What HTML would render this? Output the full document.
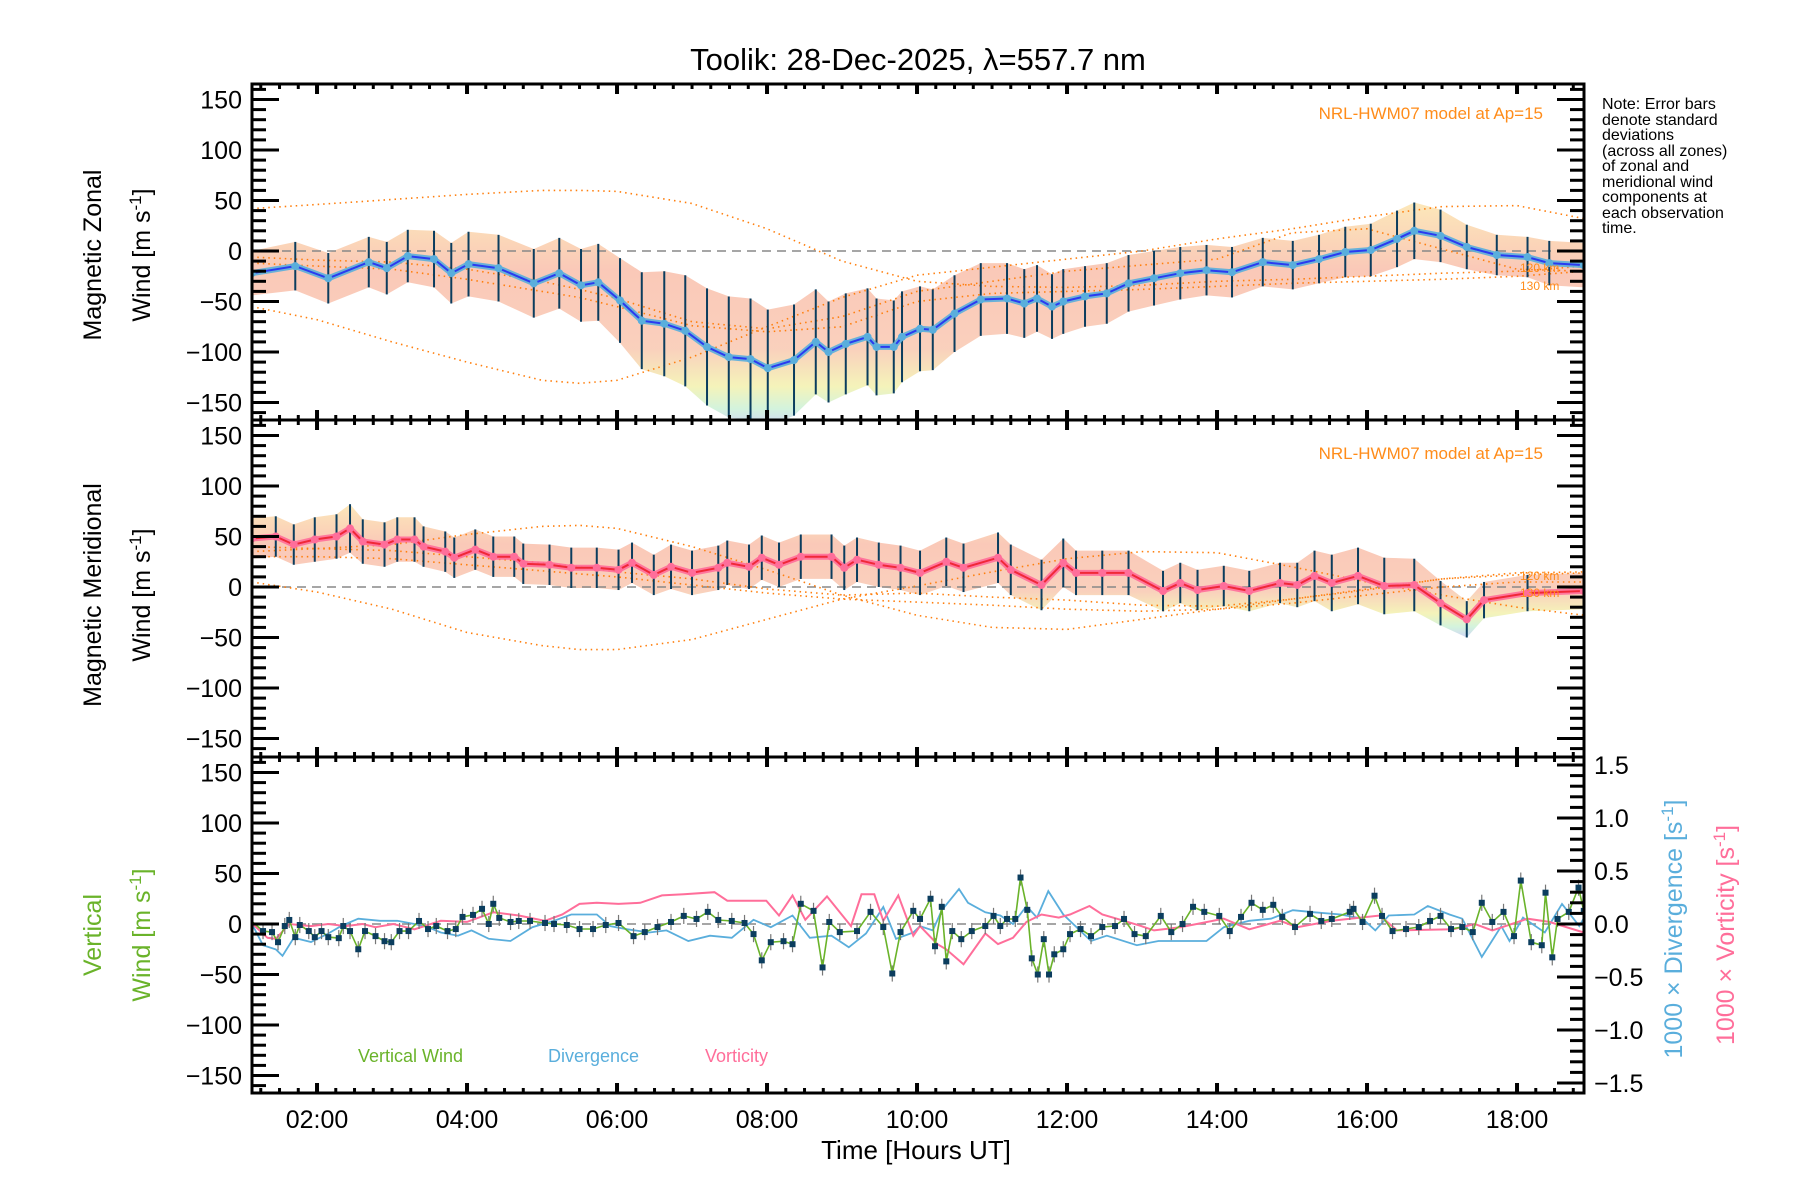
<!DOCTYPE html>
<html><head><meta charset="utf-8"><title>Toolik winds</title>
<style>
html,body{margin:0;padding:0;background:#fff;}
svg{display:block;font-family:"Liberation Sans",sans-serif;}
</style></head>
<body>
<svg id="chart" width="1800" height="1200" viewBox="0 0 1800 1200" xmlns="http://www.w3.org/2000/svg">
<defs>
<linearGradient id="rainbow" x1="0" y1="0" x2="0" y2="1">
<stop offset="0" stop-color="#fbe2a8"/><stop offset="0.3" stop-color="#f9bba6"/><stop offset="0.65" stop-color="#f8c4ac"/><stop offset="0.82" stop-color="#f2f0a8"/><stop offset="0.92" stop-color="#c8f0d4"/><stop offset="1" stop-color="#c4ccf4"/>
</linearGradient>
</defs>
<text x="918" y="70" font-size="31" text-anchor="middle">Toolik: 28-Dec-2025, λ=557.7 nm</text>
<g id="layer"></g>
<text x="916" y="1159" font-size="26" text-anchor="middle">Time [Hours UT]</text>
<g font-size="25" text-anchor="middle">
<text transform="translate(101,255) rotate(-90)">Magnetic Zonal</text>
<text transform="translate(150,255) rotate(-90)">Wind [m s<tspan dy="-9" font-size="17">-1</tspan><tspan dy="9">]</tspan></text>
</g>
<g font-size="25" text-anchor="middle">
<text transform="translate(101,595) rotate(-90)">Magnetic Meridional</text>
<text transform="translate(150,595) rotate(-90)">Wind [m s<tspan dy="-9" font-size="17">-1</tspan><tspan dy="9">]</tspan></text>
</g>
<g font-size="25" text-anchor="middle" fill="#6ab32a">
<text transform="translate(101,935) rotate(-90)">Vertical</text>
<text transform="translate(150,935) rotate(-90)">Wind [m s<tspan dy="-9" font-size="17">-1</tspan><tspan dy="9">]</tspan></text>
</g>
<text transform="translate(1682,929) rotate(-90)" font-size="25" text-anchor="middle" fill="#5aaedc">1000 × Divergence [s<tspan dy="-9" font-size="17">-1</tspan><tspan dy="9">]</tspan></text>
<text transform="translate(1734,935) rotate(-90)" font-size="25" text-anchor="middle" fill="#ff6e9a">1000 × Vorticity [s<tspan dy="-9" font-size="17">-1</tspan><tspan dy="9">]</tspan></text>
<g font-size="16" fill="#000">
<text x="1602" y="109">Note: Error bars</text>
<text x="1602" y="125">denote standard</text>
<text x="1602" y="140">deviations</text>
<text x="1602" y="156">(across all zones)</text>
<text x="1602" y="171">of zonal and</text>
<text x="1602" y="187">meridional wind</text>
<text x="1602" y="202">components at</text>
<text x="1602" y="218">each observation</text>
<text x="1602" y="233">time.</text>
</g>
<text x="1543" y="119" font-size="17" text-anchor="end" fill="#ff8c1a">NRL-HWM07 model at Ap=15</text>
<text x="1543" y="459" font-size="17" text-anchor="end" fill="#ff8c1a">NRL-HWM07 model at Ap=15</text>
<g font-size="12" fill="#ff8c1a">
<text x="1520" y="272">120 km</text><text x="1520" y="290">130 km</text>
<text x="1520" y="580">120 km</text><text x="1520" y="597">130 km</text>
</g>
<text x="358" y="1062" font-size="18" fill="#6ab32a">Vertical Wind</text>
<text x="548" y="1062" font-size="18" fill="#5aaedc">Divergence</text>
<text x="705" y="1062" font-size="18" fill="#ff6e9a">Vorticity</text>
</svg>
<script>
// ---- data ----
const zonalTimes=[1.13,1.71,2.15,2.69,2.93,3.21,3.56,3.79,4.02,4.42,4.89,5.23,5.52,5.75,6.04,6.33,6.63,6.91,7.2,7.49,7.78,8.01,8.36,8.65,8.82,9.05,9.34,9.46,9.69,9.8,10.04,10.21,10.5,10.85,11.2,11.43,11.6,11.8,11.95,12.24,12.53,12.82,13.16,13.51,13.86,14.2,14.61,15.01,15.36,15.71,16.05,16.4,16.63,16.98,17.33,17.73,18.14,18.43,18.89];
const zonalMean=[-22,-15,-27,-11,-17,-5,-8,-22,-13,-17,-32,-22,-34,-31,-49,-69,-72,-79,-95,-105,-107,-116,-108,-90,-100,-92,-85,-95,-95,-85,-77,-78,-62,-48,-47,-52,-47,-55,-50,-45,-42,-32,-27,-22,-19,-21,-11,-14,-8,-1,1,12,20,15,4,-4,-6,-12,-14];
const zonalStd=[22,24,25,25,26,26,28,30,32,33,34,35,36,38,42,48,52,55,58,60,60,58,55,52,50,50,48,48,46,45,42,40,38,36,35,34,33,32,32,30,30,28,27,26,25,25,24,24,24,25,26,28,28,26,22,20,20,22,22];
const meridTimes=[1.13,1.45,1.69,1.97,2.26,2.44,2.61,2.9,3.07,3.3,3.42,3.71,3.83,4.11,4.35,4.63,4.75,5.1,5.39,5.73,6.02,6.2,6.49,6.72,7.0,7.35,7.47,7.76,7.93,8.16,8.45,8.86,9.03,9.2,9.49,9.78,10.04,10.39,10.62,11.08,11.25,11.66,11.95,12.12,12.47,12.82,13.28,13.51,13.74,14.09,14.43,14.84,15.07,15.3,15.53,15.88,16.23,16.63,16.98,17.33,17.56,18.14,18.89];
const meridMean=[48,50,42,47,50,58,45,42,47,47,40,35,29,37,30,30,23,22,19,19,17,24,12,20,14,19,24,20,29,22,30,30,19,27,22,19,14,25,19,29,17,2,24,14,14,14,-4,4,-3,1,-4,4,2,11,4,11,1,2,-16,-32,-13,-6,-4];
const meridStd=[20,20,20,22,22,24,22,22,22,22,20,20,20,20,20,20,20,20,20,20,20,20,20,22,22,22,22,22,22,22,22,22,22,22,22,22,22,24,24,25,25,25,24,22,22,22,20,20,20,20,20,20,22,25,28,28,28,26,22,18,18,18,18];
const modelHours=[1.13,2,3,4,5,5.5,6,7,8,9,10,11,12,13,14,15,16,17,18,18.9];
const zonalModelA=[42,46,51,56,60,60,59,47,22,-10,-30,-35,-36,-34,-30,-28,-25,-22,-20,-15];
const zonalModelB=[-55,-68,-90,-110,-128,-131,-128,-105,-75,-46,-24,-16,-8,0,12,22,34,44,45,32];
const zonalModelC=[-6,-9,-11,-18,-30,-38,-47,-70,-77,-65,-40,-30,-20,-14,-8,18,22,2,-18,-20];
const zonalModelD=[-12,-15,-18,-28,-40,-46,-55,-74,-80,-75,-50,-42,-40,-38,-35,-32,-30,-28,-25,-20];
const meridModelA=[35,38,42,52,60,61,58,40,17,-8,-28,-40,-42,-32,-22,-12,-3,8,14,15];
const meridModelB=[5,-5,-22,-45,-58,-62,-62,-52,-32,-12,1,15,28,35,34,20,5,-8,-20,-28];
const meridModelC=[40,38,36,30,24,20,15,8,-2,-8,-6,-10,-13,-18,-19,-12,-2,8,12,14];
const meridModelD=[30,30,28,22,16,13,10,2,-6,-12,-15,-18,-22,-24,-22,-16,-8,0,5,5];
const vertTimes=[1.11,1.28,1.40,1.48,1.57,1.63,1.71,1.77,1.89,1.97,2.06,2.15,2.29,2.35,2.44,2.55,2.64,2.78,2.90,2.99,3.10,3.22,3.36,3.48,3.59,3.74,3.85,3.94,4.08,4.20,4.29,4.35,4.43,4.58,4.69,4.84,5.04,5.16,5.33,5.50,5.68,5.85,6.02,6.22,6.37,6.54,6.72,6.89,7.06,7.21,7.35,7.53,7.70,7.82,7.93,8.05,8.22,8.34,8.45,8.62,8.74,8.83,8.97,9.20,9.38,9.55,9.67,9.78,9.95,10.04,10.18,10.24,10.33,10.39,10.47,10.59,10.73,10.91,11.02,11.11,11.20,11.31,11.38,11.47,11.53,11.61,11.69,11.76,11.83,11.95,12.04,12.18,12.32,12.47,12.64,12.76,12.90,13.05,13.25,13.39,13.54,13.68,13.83,14.03,14.17,14.32,14.46,14.61,14.75,14.87,15.04,15.24,15.39,15.53,15.77,15.82,15.94,16.10,16.20,16.34,16.52,16.69,16.84,16.98,17.12,17.27,17.41,17.53,17.67,17.82,17.96,18.05,18.19,18.33,18.38,18.47,18.54,18.69,18.82,18.89];
const vertWind=[4,-7,-8,-18,-2,4,-13,-1,-7,-13,-7,-13,-14,-2,-7,-25,-7,-12,-17,-18,-7,-7,3,-5,-2,-7,-5,7,9,15,0,20,6,2,3,3,1,0,-1,-5,-5,-1,1,-12,-8,-3,2,8,5,12,4,3,1,-10,-36,-18,-17,-20,20,13,-43,2,-8,-7,12,-3,-49,-8,13,5,25,-22,17,-37,-7,-15,-7,-2,8,-2,5,5,46,14,-34,-50,-15,-50,-30,-25,-10,-5,-12,-3,-2,5,-10,-12,8,-8,0,17,12,8,-7,7,21,14,19,7,-3,10,3,5,12,15,2,28,8,-7,-5,-3,3,8,-5,-3,-8,21,2,12,-12,43,-18,-21,31,-33,5,12,36,13];
const vortTimes=[1.11,1.34,1.45,1.63,1.92,2.15,2.38,2.61,2.78,3.02,3.30,3.65,4.00,4.35,4.69,5.04,5.27,5.50,5.73,6.02,6.31,6.60,6.89,7.30,7.47,7.99,8.16,8.34,8.51,8.80,9.12,9.26,9.43,9.55,9.75,9.95,10.04,10.27,10.39,10.62,10.91,11.08,11.28,11.46,11.66,11.89,12.04,12.30,12.47,12.76,12.99,13.16,13.51,14.09,14.43,14.84,15.07,15.53,16.17,16.40,17.15,17.44,17.67,18.14,18.43,18.89];
const vorticity=[0.02,-0.13,-0.14,0,-0.02,0,-0.02,0,-0.03,0,-0.05,0.03,0.02,0.11,0.08,0.03,0.09,0.19,0.20,0.19,0.20,0.27,0.28,0.30,0.22,0.22,0.08,0.27,0.04,0.26,-0.02,0.28,0.28,0.03,0.27,-0.11,-0.02,-0.19,-0.24,-0.38,-0.09,-0.19,-0.13,0.02,0.09,0.06,0.09,0.17,0.09,0.03,-0.02,-0.06,-0.03,0.05,-0.05,0.03,-0.03,0.03,0.08,-0.06,-0.05,0,-0.06,0.05,0.02,-0.08];
const divTimes=[1.11,1.28,1.45,1.54,1.69,1.92,2.15,2.32,2.55,2.84,3.07,3.30,3.48,3.65,3.88,4.06,4.29,4.58,4.87,5.16,5.39,5.73,5.91,6.14,6.43,6.66,6.95,7.24,7.53,7.82,8.05,8.34,8.57,8.86,9.09,9.32,9.55,9.72,9.95,10.04,10.21,10.33,10.56,10.68,10.91,11.11,11.28,11.46,11.60,11.75,11.95,12.32,12.53,12.93,13.22,13.86,14.09,14.43,14.72,15.01,15.30,15.65,15.94,16.11,16.29,16.63,16.81,17.10,17.27,17.53,17.79,17.90,18.08,18.37,18.60,18.83,18.95];
const divergence=[0.03,-0.20,-0.24,-0.30,-0.13,-0.17,-0.09,-0.02,0.05,0.03,0.03,0,-0.03,-0.08,-0.11,-0.06,-0.14,-0.16,-0.03,0.03,0.09,0.09,-0.02,-0.05,-0.08,-0.06,-0.16,-0.11,-0.13,0.04,-0.03,0.08,-0.13,-0.11,-0.22,-0.09,0.16,-0.14,-0.08,-0.02,-0.06,0.13,0.33,0.20,0.11,0.08,0,0.17,0.06,0.31,0.09,-0.16,-0.11,-0.20,-0.16,-0.16,-0.03,0.03,0.05,0.13,0.11,0.09,0.05,-0.06,0.08,0.09,0.17,0.09,0.05,-0.31,-0.02,-0.16,0.06,-0.08,0.19,-0.02,0.13];
const yTickLabels=["150","100","50","0","−50","−100","−150"];
const yTickValues=[150,100,50,0,-50,-100,-150];
const rTickLabels=["1.5","1.0","0.5","0.0","−0.5","−1.0","−1.5"];
const rTickValues=[1.5,1.0,0.5,0,-0.5,-1.0,-1.5];
const xTickLabels=["02:00","04:00","06:00","08:00","10:00","12:00","14:00","16:00","18:00"];
const xTickHours=[2,4,6,8,10,12,14,16,18];

// ---- geometry ----
const NS='http://www.w3.org/2000/svg';
const L=252,R=1584,H0=1.133,PXH=75;
const panels=[{top:84,bot:420},{top:420,bot:757},{top:757,bot:1093}];
const X=h=>L+(h-H0)*PXH;
const Y=(p,v)=>panels[p].top+167-v*1.01;
const YR=v=>924-v*106;
const layer=document.getElementById('layer');
function mk(tag,attrs,parent){const e=document.createElementNS(NS,tag);for(const k in attrs)e.setAttribute(k,attrs[k]);(parent||layer).appendChild(e);return e;}
function pathOf(ts,vs,fy){return ts.map((t,i)=>(i?'L':'M')+X(t).toFixed(1)+' '+fy(vs[i]).toFixed(1)).join(' ');}

const defs=document.querySelector('defs');
panels.forEach((p,i)=>{const c=mk('clipPath',{id:'clip'+i},defs);mk('rect',{x:L,y:p.top,width:R-L,height:p.bot-p.top},c);});

function windPanel(p,times,mean,std,models,lineCol,coreCol,name){
  const g=mk('g',{'clip-path':'url(#clip'+p+')'});
  
  
  const up=times.map((t,i)=>X(t).toFixed(1)+','+Y(p,mean[i]+std[i]).toFixed(1));
  const dn=times.map((t,i)=>X(t).toFixed(1)+','+Y(p,mean[i]-std[i]).toFixed(1)).reverse();
  const band=mk('polygon',{points:up.concat(dn).join(' '),fill:'url(#rainbow)',opacity:'0.8'},g);
  
  
  const z=mk('line',{x1:L,x2:R,y1:Y(p,0),y2:Y(p,0),stroke:'#888','stroke-width':1.5,'stroke-dasharray':'9,6'},g);
  
  
  models.forEach((m,k)=>{
    const mp=mk('path',{d:pathOf(modelHours,m,v=>Y(p,v)),fill:'none',stroke:'#ff7f0e','stroke-width':1.6,'stroke-dasharray':'1.5,4'},g);
    
    
  });
  times.forEach((t,i)=>{
    const b=mk('line',{x1:X(t),x2:X(t),y1:Y(p,mean[i]+std[i]),y2:Y(p,mean[i]-std[i]),stroke:'#0b3d5e','stroke-width':2},g);
    
    
  });
  const ml=mk('path',{d:pathOf(times,mean,v=>Y(p,v)),fill:'none',stroke:lineCol,'stroke-width':6,'stroke-linejoin':'round',opacity:'0.9'},g);
  
  
  const mc=mk('path',{d:pathOf(times,mean,v=>Y(p,v)),fill:'none',stroke:coreCol,'stroke-width':2},g);
  
  
  times.forEach((t,i)=>{
    const d=mk('circle',{cx:X(t),cy:Y(p,mean[i]),r:4,fill:lineCol},g);
    
    
  });
}
windPanel(0,zonalTimes,zonalMean,zonalStd,[zonalModelA,zonalModelB,zonalModelC,zonalModelD],'#5aaedc','#2a3af0','zonal');
windPanel(1,meridTimes,meridMean,meridStd,[meridModelA,meridModelB,meridModelC,meridModelD],'#ff6e9a','#f02838','meridional');

(function(){
  const g=mk('g',{'clip-path':'url(#clip2)'});
  
  
  const z=mk('line',{x1:L,x2:R,y1:Y(2,0),y2:Y(2,0),stroke:'#888','stroke-width':1.5,'stroke-dasharray':'9,6'},g);
  
  
  const dv=mk('path',{d:pathOf(divTimes,divergence,YR),fill:'none',stroke:'#5aaedc','stroke-width':1.8},g);
  
  
  const vo=mk('path',{d:pathOf(vortTimes,vorticity,YR),fill:'none',stroke:'#ff6e9a','stroke-width':2},g);
  
  
  vertTimes.forEach((t,i)=>{
    const e=mk('line',{x1:X(t),x2:X(t),y1:Y(2,vertWind[i]+8),y2:Y(2,vertWind[i]-8),stroke:'#777','stroke-width':1.2},g);
    
    
  });
  const vw=mk('path',{d:pathOf(vertTimes,vertWind,v=>Y(2,v)),fill:'none',stroke:'#6ab32a','stroke-width':1.6},g);
  
  
  vertTimes.forEach((t,i)=>{
    const s=mk('rect',{x:X(t)-3,y:Y(2,vertWind[i])-3,width:6,height:6,fill:'#0b3d5e'},g);
    
    
  });
})();

const ax=mk('g',{});


panels.forEach((p,pi)=>{
  mk('rect',{x:L,y:p.top,width:R-L,height:p.bot-p.top,fill:'none',stroke:'#000','stroke-width':3},ax);
  for(let v=-160;v<=160;v+=10){
    const y=Y(pi,v); if(y<p.top+2||y>p.bot-2) continue;
    const len=(v%50===0)?27:14;
    mk('line',{x1:L,x2:L+len,y1:y,y2:y,stroke:'#000','stroke-width':3},ax);
    if(pi<2) mk('line',{x1:R-len,x2:R,y1:y,y2:y,stroke:'#000','stroke-width':3},ax);
  }
  yTickValues.forEach((v,i)=>{
    const t=mk('text',{x:242,y:Y(pi,v)+9,'font-size':25,'text-anchor':'end'},ax);
    t.textContent=yTickLabels[i];
    
    
  });
  for(let h=1.25;h<18.9;h+=0.25){
    const x=X(h); const major=Math.abs(h-Math.round(h))<0.01&&Math.round(h)%2===0;
    const len=major?10:5; const w=major?4:3;
    mk('line',{x1:x,x2:x,y1:p.top,y2:p.top+len,stroke:'#000','stroke-width':w},ax);
    mk('line',{x1:x,x2:x,y1:p.bot-len,y2:p.bot,stroke:'#000','stroke-width':w},ax);
  }
});
for(let k=-15;k<=15;k++){
  const v=k/10,y=YR(v); const major=(k%5===0); const len=major?27:14;
  mk('line',{x1:R-len,x2:R,y1:y,y2:y,stroke:'#000','stroke-width':3},ax);
}
rTickValues.forEach((v,i)=>{
  const t=mk('text',{x:1594,y:YR(v)+9,'font-size':25},ax);
  t.textContent=rTickLabels[i];
  
  
});
xTickHours.forEach((h,i)=>{
  const t=mk('text',{x:X(h),y:1128,'font-size':25,'text-anchor':'middle'},ax);
  t.textContent=xTickLabels[i];
  
  
});
</script>
</body></html>
